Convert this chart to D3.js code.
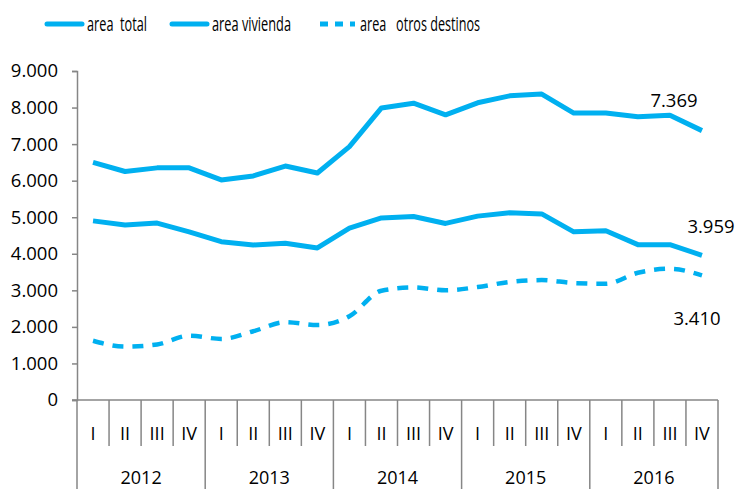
<!DOCTYPE html>
<html>
<head>
<meta charset="utf-8">
<script src="https://cdn.jsdelivr.net/npm/d3@7"></script>
<style>
  body { margin: 0; background: #fff; }
  svg { font-family: "Open Sans", "Liberation Sans", sans-serif; }
</style>
</head>
<body>
<svg width="736" height="489"></svg>
<script>
// data
const years = ["2012", "2013", "2014", "2015", "2016"];
const quarters = ["I", "II", "III", "IV"];
const areaTotal = [6500, 6250, 6350, 6350, 6020, 6130, 6400, 6210, 6930, 7990, 8120, 7800, 8130, 8320, 8370, 7850, 7850, 7750, 7790, 7369];
const areaVivienda = [4900, 4790, 4840, 4600, 4330, 4240, 4290, 4160, 4700, 4980, 5020, 4830, 5030, 5120, 5090, 4600, 4630, 4250, 4250, 3959];
const areaOtros = [1620, 1460, 1520, 1760, 1670, 1880, 2130, 2050, 2290, 2990, 3080, 3000, 3090, 3230, 3280, 3200, 3180, 3480, 3590, 3410];
const yTicks = [0, 1000, 2000, 3000, 4000, 5000, 6000, 7000, 8000, 9000];
const seriesNames = ["area  total", "area vivienda", "area   otros destinos"];

const blue = "#00b0f0";
const grey = "#868686";
const svg = d3.select("svg");

const cats = [];
years.forEach(y => quarters.forEach(q => cats.push(y + "-" + q)));

const x = d3.scaleBand().domain(cats).range([77, 718]);
const y = d3.scaleLinear().domain([0, 9000]).range([400, 71]);
const fmt = v => d3.format(",")(v).replace(/,/g, ".");

// y axis
const yAxis = svg.append("g").attr("transform", "translate(77,0)")
  .call(d3.axisLeft(y).tickValues(yTicks).tickFormat(fmt).tickSize(5).tickPadding(14));
yAxis.select(".domain").attr("stroke", grey).attr("stroke-width", 1.5);
yAxis.selectAll(".tick line").attr("stroke", grey).attr("stroke-width", 1.5);
yAxis.selectAll("text").attr("font-size", 18.5).attr("fill", "#000")
  .attr("font-family", "Open Sans, sans-serif");

// x axis frame
const xa = svg.append("g").attr("stroke", grey).attr("stroke-width", 1.5);
xa.append("line").attr("x1", 72).attr("x2", 718).attr("y1", 400).attr("y2", 400);
cats.forEach((c, i) => {
  const xx = x(c);
  const isYear = i % 4 === 0;
  xa.append("line").attr("x1", xx).attr("x2", xx).attr("y1", 400).attr("y2", isYear ? 489 : 446);
});
xa.append("line").attr("x1", 718).attr("x2", 718).attr("y1", 400).attr("y2", 489);

svg.append("g").selectAll("text").data(cats).join("text")
  .attr("x", d => x(d) + x.bandwidth() / 2)
  .attr("y", 440)
  .attr("text-anchor", "middle")
  .attr("font-size", 18)
  .text(d => d.split("-")[1]);

svg.append("g").selectAll("text").data(years).join("text")
  .attr("x", d => x(d + "-I") + x.bandwidth() * 2)
  .attr("y", 484)
  .attr("text-anchor", "middle")
  .attr("font-size", 18)
  .text(d => d);

// lines
const cx = i => x(cats[i]) + x.bandwidth() / 2;
const line = d3.line().x((d, i) => cx(i)).y(d => y(d));
const smooth = d3.line().x((d, i) => cx(i)).y(d => y(d)).curve(d3.curveMonotoneX);

svg.append("path").datum(areaTotal).attr("d", line)
  .attr("fill", "none").attr("stroke", blue).attr("stroke-width", 5).attr("stroke-linejoin", "round");
svg.append("path").datum(areaVivienda).attr("d", line)
  .attr("fill", "none").attr("stroke", blue).attr("stroke-width", 5).attr("stroke-linejoin", "round");
svg.append("path").datum(areaOtros).attr("d", smooth)
  .attr("fill", "none").attr("stroke", blue).attr("stroke-width", 4.5).attr("stroke-dasharray", "11 9");

// value labels
const last = cats.length - 1;
const labels = [
  { v: areaTotal[last], x: 674, y: 107 },
  { v: areaVivienda[last], x: 711, y: 233 },
  { v: areaOtros[last], x: 697, y: 325 }
];
svg.append("g").selectAll("text").data(labels).join("text")
  .attr("x", d => d.x).attr("y", d => d.y)
  .attr("text-anchor", "middle").attr("font-size", 18.5)
  .text(d => fmt(d.v));

// legend (text squeezed to the narrow face of the original)
const legend = [
  { x: 45, w: 60, dash: null },
  { x: 170, w: 79, dash: null },
  { x: 318, w: 120, dash: "8 7" }
];
const lg = svg.append("g");
legend.forEach((l, i) => {
  lg.append("line").attr("x1", l.x + 2).attr("x2", l.x + 37).attr("y1", 24).attr("y2", 24)
    .attr("stroke", blue).attr("stroke-width", 5).attr("stroke-linecap", l.dash ? "butt" : "round")
    .attr("stroke-dasharray", l.dash);
  lg.append("text").attr("x", l.x + 42).attr("y", 31).attr("font-size", 20.5)
    .attr("textLength", l.w).attr("lengthAdjust", "spacingAndGlyphs")
    .style("white-space", "pre").text(seriesNames[i]);
});
</script>
</body>
</html>
